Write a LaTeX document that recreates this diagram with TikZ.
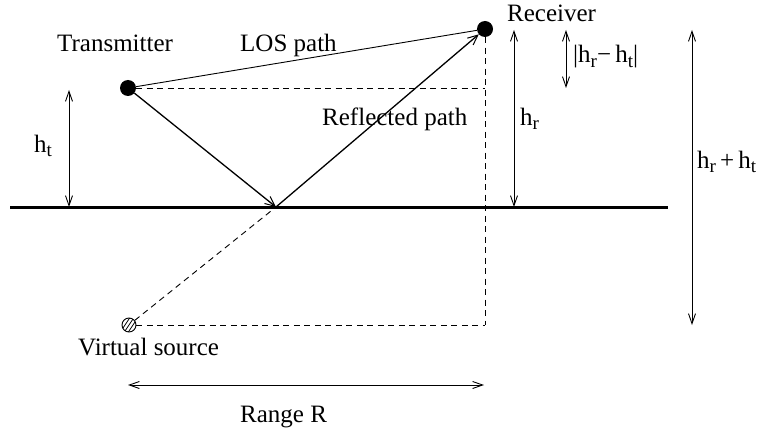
\documentclass[tikz,border=0pt]{standalone}
\usepackage{fontspec}
\setmainfont{Liberation Serif}
\usetikzlibrary{arrows.meta}
\newcommand{\mysb}[1]{\raisebox{-4.5pt}{\fontsize{19}{20}\selectfont #1}}
\begin{document}
\begin{tikzpicture}[x=1pt,y=-1pt,
  lbl/.style={font=\fontsize{25}{29}\selectfont, inner sep=0pt, anchor=base west},
  dot/.style={circle,fill=black,inner sep=0pt,minimum size=16pt},
  dsh/.style={dash pattern=on 6pt off 4.5pt, line width=0.9pt},
  ray/.style={line width=1.3pt,-{Straight Barb[length=10pt,width=9pt,line width=1pt]}},
  dimarrow/.style={line width=0.9pt,{Straight Barb[length=10pt,width=7pt,line width=0.9pt]}-{Straight Barb[length=10pt,width=7pt,line width=0.9pt]}}
]
\useasboundingbox (0,0) rectangle (773,433);
% points
\node[dot] (tx) at (128,88) {};
\node[dot] (rx) at (485,29) {};
\node[circle,draw,line width=0.9pt,inner sep=0pt,minimum size=14pt] (vs) at (129,325) {};
\begin{scope}
  \clip (vs.center) circle (7pt);
  \foreach \o in {-4,0,4}
    \draw[line width=0.8pt] ([xshift=\o pt]vs.center) ++(-6,9) -- ++(12,-18);
\end{scope}
\coordinate (refl) at (276,207);
\coordinate (g1) at (10,207);
\coordinate (g2) at (668,207);
\coordinate (c1) at (485,88);
\coordinate (c2) at (485,325);
% ground
\draw[line width=3pt] (g1) -- (g2);
% paths
\draw[line width=0.9pt] (tx) -- (rx);
\draw[ray] (tx) -- (refl);
\draw[ray] (refl) -- (rx);
\draw[dsh] (tx) -- (c1);
\draw[dsh] (rx) -- (c2);
\draw[dsh] (vs) -- (refl);
\draw[dsh] (vs) -- (c2);
% dimension arrows
\coordinate (ht1) at (69,90);  \coordinate (ht2) at (69,207);
\coordinate (hr1) at (514,30); \coordinate (hr2) at (514,207);
\coordinate (hd1) at (566,30); \coordinate (hd2) at (566,88);
\coordinate (hs1) at (692,30); \coordinate (hs2) at (692,325);
\coordinate (rr1) at (128,385); \coordinate (rr2) at (484,385);
\draw[dimarrow] (ht1) -- (ht2);
\draw[dimarrow] (hr1) -- (hr2);
\draw[dimarrow] (hd1) -- (hd2);
\draw[dimarrow] (hs1) -- (hs2);
\draw[dimarrow] (rr1) -- (rr2);
% labels
\node[lbl] (ltx) at (57,52) {Transmitter};
\node[lbl] (llos) at (240,52) {LOS path};
\node[lbl] (lrx) at (507,22) {Receiver};
\node[lbl] (lref) at (322,125) {Reflected path};
\node[lbl] (lhr) at (520,125) {h\mysb{r}};
\node[lbl] (lht) at (34,152) {h\mysb{t}};
\node[lbl] (lhd) at (573,63) {|h\mysb{r}−\,h\mysb{t}|};
\node[lbl] (lhs) at (697,168) {h\mysb{r}\,+\,h\mysb{t}};
\node[lbl] (lvs) at (78,355) {Virtual source};
\node[lbl] (lrange) at (240,422) {Range R};
\end{tikzpicture}
\end{document}
